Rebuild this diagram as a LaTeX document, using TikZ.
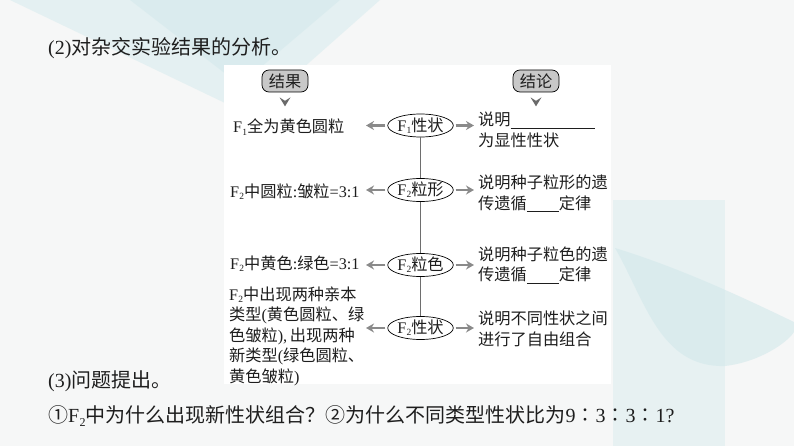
\documentclass[tikz,border=0pt]{standalone}
\usepackage{fontspec}
\setmainfont{Noto Sans CJK SC}
\newfontfamily\latf{Liberation Serif}
\usetikzlibrary{shapes.geometric,arrows.meta,calc}
\definecolor{bg}{HTML}{F6F7F7}
\definecolor{teala}{HTML}{DDEEF0}
\definecolor{tealb}{HTML}{D2E8EB}
\definecolor{agray}{HTML}{8A8A8A}
\definecolor{tgray}{HTML}{6A6A6A}
\definecolor{lgray}{HTML}{6E6E6E}
\definecolor{boxgray}{HTML}{C8C8C8}
\definecolor{ink}{HTML}{1E1E1E}
\newcommand\dfont{\fontsize{16.2}{20.5}\selectfont}
\newcommand\tfont{\fontsize{20}{24}\selectfont}
\newcommand\Fs[1]{{\latf F\kern0.2pt\raisebox{-0.3ex}{\fontsize{9.5}{9.5}\selectfont#1}}}
\newcommand\Fb[1]{{\latf F\kern0.2pt\raisebox{-0.35ex}{\fontsize{12}{12}\selectfont#1}}}
\newcommand\Lt[1]{{\latf #1}}
\tikzset{
  ell/.style={ellipse, draw=black, line width=0.7pt, fill=white, minimum width=60pt, minimum height=23pt, inner sep=0pt, font=\dfont, text=ink},
  lbl/.style={draw=black, line width=0.7pt, fill=boxgray, rounded corners=7pt, minimum width=46pt, minimum height=22pt, inner sep=0pt, font=\dfont, text=ink},
  garrow/.style={draw=agray, line width=2.8pt, -{Stealth[length=8pt,width=9pt]}, shorten <=2pt},
  vline/.style={draw=lgray, line width=1.6pt},
  txt/.style={anchor=west, align=left, inner sep=0pt, font=\dfont, text=ink},
  ttl/.style={anchor=west, inner sep=0pt, font=\tfont, text=ink}
}
\begin{document}
\begin{tikzpicture}[x=1pt,y=-1pt]
\fill[bg] (0,0) rectangle (794,446);
\useasboundingbox (0,0) rectangle (794,446);
% faint background decorations
\fill[teala, opacity=0.7] (10,0) -- (380,0) -- (250,115) -- cycle;
\fill[tealb, opacity=0.5] (130,0) -- (340,0) -- (240,85) -- cycle;
\fill[teala, opacity=0.6] (613,200) -- (725,200) -- (725,446) -- (613,446) -- cycle;
\fill[tealb, opacity=0.6] (615,248) .. controls (645,300) and (660,368) .. (725,366) .. controls (760,362) and (788,342) .. (794,332) -- (794,322) .. controls (740,296) and (680,268) .. (615,248) -- cycle;
% white panel
\fill[white] (224,65) rectangle (611,384);
% header labels
\node[lbl] (h1) at (285,81) {结果};
\node[lbl] (h2) at (536,81) {结论};
\fill[tgray] ($(h1.south)+(-5.5,5)$) -- ($(h1.south)+(0,8.5)$) -- ($(h1.south)+(5.5,5)$) -- ($(h1.south)+(0,14)$) -- cycle;
\fill[tgray] ($(h2.south)+(-5.5,5)$) -- ($(h2.south)+(0,8.5)$) -- ($(h2.south)+(5.5,5)$) -- ($(h2.south)+(0,14)$) -- cycle;
% ellipses
\node[ell] (e1) at (420.5,125.5) {\Fs{1}性状};
\node[ell] (e2) at (420.5,190) {\Fs{2}粒形};
\node[ell] (e3) at (420.5,265) {\Fs{2}粒色};
\node[ell] (e4) at (420.5,328) {\Fs{2}性状};
\draw[vline] (e1) -- (e2);
\draw[vline] (e2) -- (e3);
\draw[vline] (e3) -- (e4);
% arrow tips
\coordinate (a1) at (366,125.5);
\coordinate (a2) at (366,190);
\coordinate (a3) at (366,265);
\coordinate (a4) at (366,328);
\coordinate (b1) at (474,125.5);
\coordinate (b2) at (474,190);
\coordinate (b3) at (474,265);
\coordinate (b4) at (474,328);
\foreach \i in {1,2,3,4}{
  \draw[garrow] (e\i) -- (a\i);
  \draw[garrow] (e\i) -- (b\i);
}
% left texts
\node[txt] (l1) at (233,127) {\Fs{1}全为黄色圆粒};
\node[txt] (l2) at (230,192) {\Fs{2}中圆粒\Lt{:}皱粒\Lt{=3:1}};
\node[txt] (l3) at (230,264) {\Fs{2}中黄色\Lt{:}绿色\Lt{=3:1}};
\node[txt] (l4) at (229,336) {\Fs{2}中出现两种亲本\\类型\Lt{(}黄色圆粒、绿\\色皱粒\Lt{),\,}出现两种\\新类型\Lt{(}绿色圆粒、\\黄色皱粒\Lt{)}};
% right texts
\node[txt] (r1) at (478,130) {说明\rule[-3pt]{84pt}{0.7pt}\\为显性性状};
\node[txt] (r2) at (478,193.5) {说明种子粒形的遗\\传遗循\rule[-3pt]{32pt}{0.7pt}定律};
\node[txt] (r3) at (478,265) {说明种子粒色的遗\\传遗循\rule[-3pt]{32pt}{0.7pt}定律};
\node[txt] (r4) at (478,329) {说明不同性状之间\\进行了自由组合};
% page texts
\node[ttl] (t1) at (48,48) {\Lt{(2)}对杂交实验结果的分析。};
\node[ttl] (t2) at (48,381) {\Lt{(3)}问题提出。};
\node[ttl] (t3) at (48,416) {①\Fb{2}中为什么出现新性状组合？②为什么不同类型性状比为\Lt{9}∶\Lt{3}∶\Lt{3}∶\Lt{1?}};
\end{tikzpicture}
\end{document}
